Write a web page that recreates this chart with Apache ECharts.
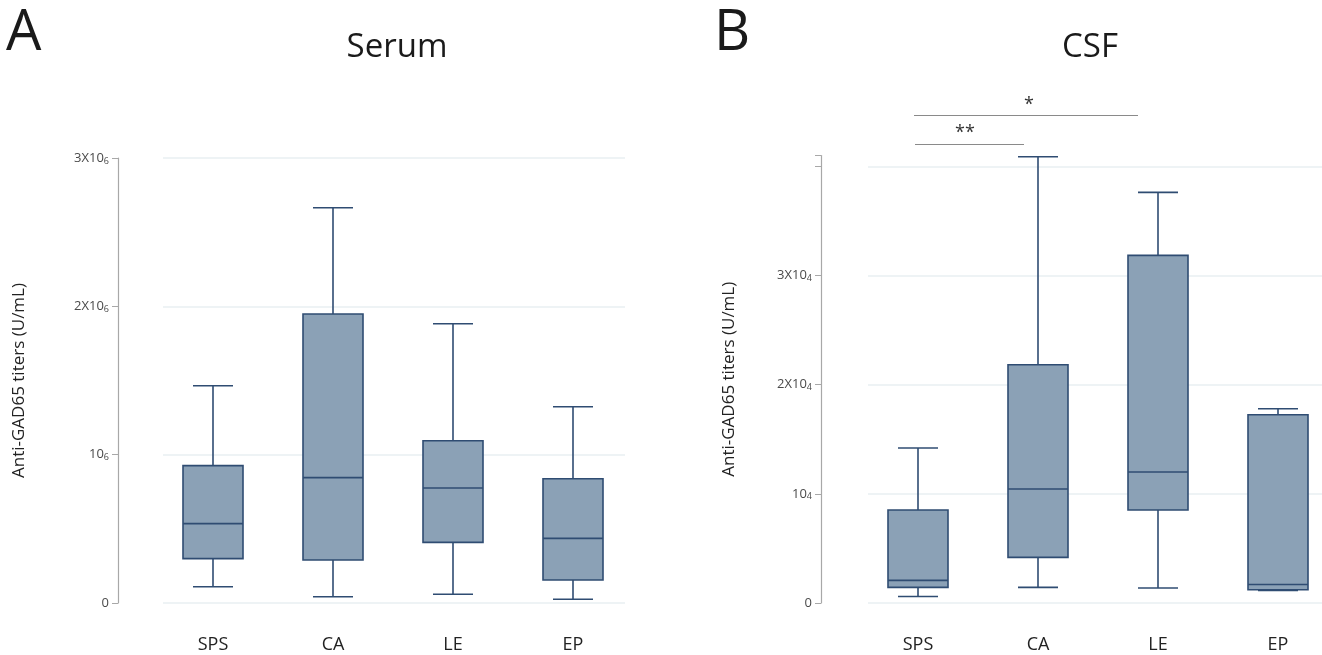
<!DOCTYPE html>
<html>
<head>
<meta charset="utf-8">
<script src="https://cdn.jsdelivr.net/npm/echarts@6/dist/echarts.min.js"></script>
<style>
html,body{margin:0;padding:0;background:#fff;}
#chart{width:1322px;height:655px;}
</style>
</head>
<body>
<div id="chart"></div>
<script>
// ---------- data ----------
const categories = ['SPS', 'CA', 'LE', 'EP'];

// Serum (U/mL)
const serumMin    = [110000,  42000,   59000,   25000];
const serumQ1     = [299000,  290000,  409000,  155000];
const serumMedian = [535000,  845000,  775000,  436000];
const serumQ3     = [926000,  1948000, 1094000, 838000];
const serumMax    = [1465000, 2665000, 1883000, 1323000];

// CSF (U/mL)
const csfMin    = [600,   1430,  1370,  1150];
const csfQ1     = [1430,  4180,  8520,  1220];
const csfMedian = [2070,  10440, 12000, 1700];
const csfQ3     = [8520,  21830, 31850, 17250];
const csfMax    = [14200, 40890, 37620, 17800];

// tick labels (base text + small exponent digit)
const serumTickValues = [0, 1000000, 2000000, 3000000];
const serumTickBase   = ['0', '10', '2X10', '3X10'];
const serumTickExp    = ['', '6', '6', '6'];
const csfTickValues = [0, 10000, 20000, 30000];
const csfTickBase   = ['0', '10', '2X10', '3X10'];
const csfTickExp    = ['', '4', '4', '4'];

const yName = 'Anti-GAD65 titers (U/mL)';

// ---------- styles ----------
const FILL = '#8ba1b6';
const STROKE = '#2f4c72';
const GRID_COLOR = '#e8eff2';
const AXIS_COLOR = '#a8a8a8';
const FONT = '"Open Sans", "Noto Sans", sans-serif';

function buildData(mn, q1, md, q3, mx) {
  return categories.map((c, i) => [i, mn[i], q1[i], md[i], q3[i], mx[i]]);
}

function renderBox(params, api) {
  const i = api.value(0);
  const p = [1, 2, 3, 4, 5].map(d => api.coord([i, api.value(d)]));
  const band = api.size([1, 0])[0];
  const bw = band * 0.5;
  const cw = bw * 2 / 3;
  const cx = Math.round(p[0][0]);
  const ls = { stroke: STROKE, lineWidth: 1.6, fill: null };
  return {
    type: 'group',
    children: [
      { type: 'line', shape: { x1: cx, y1: p[4][1], x2: cx, y2: p[3][1] }, style: ls },
      { type: 'line', shape: { x1: cx, y1: p[1][1], x2: cx, y2: p[0][1] }, style: ls },
      { type: 'line', shape: { x1: cx - cw / 2, y1: p[4][1], x2: cx + cw / 2, y2: p[4][1] }, style: ls },
      { type: 'line', shape: { x1: cx - cw / 2, y1: p[0][1], x2: cx + cw / 2, y2: p[0][1] }, style: ls },
      { type: 'rect', shape: { x: cx - bw / 2, y: p[3][1], width: bw, height: p[1][1] - p[3][1] },
        style: { fill: FILL, stroke: STROKE, lineWidth: 1.6 } },
      { type: 'line', shape: { x1: cx - bw / 2, y1: p[2][1], x2: cx + bw / 2, y2: p[2][1] }, style: ls }
    ]
  };
}

function tickFormatter(values, base, exp) {
  return function (v) {
    const k = values.indexOf(v);
    if (k < 0) return '';
    return exp[k] ? base[k] + '{e|' + exp[k] + '}' : base[k];
  };
}

const labelRich = {
  e: { fontSize: 9, color: '#4a4a4a', verticalAlign: 'bottom', lineHeight: 15, fontFamily: FONT }
};

function gridLineAxes(gridIndex, max, interval) {
  return {
    x: { gridIndex, type: 'value', show: false, min: 0, max: 1 },
    y: {
      gridIndex, type: 'value', min: 0, max, interval,
      axisLine: { show: false }, axisTick: { show: false }, axisLabel: { show: false },
      splitLine: { show: true, lineStyle: { color: GRID_COLOR, width: 1.5 } }
    }
  };
}

const g0 = gridLineAxes(0, 3000000, 1000000);
const g2 = gridLineAxes(2, 40000, 10000);

function dataXAxis(gridIndex) {
  return {
    gridIndex, type: 'category', data: categories,
    axisLine: { show: false }, axisTick: { show: false },
    axisLabel: { margin: 33, fontSize: 18, color: '#222', fontFamily: FONT },
    splitLine: { show: false }
  };
}

function dataYAxis(gridIndex, max, interval, offset, values, base, exp, nameGap) {
  return {
    gridIndex, type: 'value', min: 0, max, interval, offset,
    name: yName, nameLocation: 'middle', nameGap,
    nameTextStyle: { fontSize: 17, color: '#222', fontFamily: FONT },
    axisLine: { show: true, lineStyle: { color: AXIS_COLOR, width: 1.2 } },
    axisTick: { show: true, length: 6, lineStyle: { color: AXIS_COLOR } },
    axisLabel: {
      margin: 9, fontSize: 13, color: '#4a4a4a', fontFamily: FONT, lineHeight: 15,
      formatter: tickFormatter(values, base, exp), rich: labelRich
    },
    splitLine: { show: false }
  };
}

const option = {
  backgroundColor: '#ffffff',
  animation: false,
  grid: [
    { left: 163, right: 697, top: 158, bottom: 52, outerBoundsMode: 'none' },
    { left: 153, right: 689, top: 158, bottom: 52, outerBoundsMode: 'none' },
    { left: 868, right: 0, top: 167, bottom: 52, outerBoundsMode: 'none' },
    { left: 858, right: -16, top: 155.5, bottom: 52, outerBoundsMode: 'none' }
  ],
  xAxis: [g0.x, dataXAxis(1), g2.x, dataXAxis(3)],
  yAxis: [
    g0.y,
    dataYAxis(1, 3000000, 1000000, 35, serumTickValues, serumTickBase, serumTickExp, 90),
    g2.y,
    dataYAxis(3, 41000, 10000, 37, csfTickValues, csfTickBase, csfTickExp, 83)
  ],
  series: [
    {
      type: 'custom', name: 'Serum', xAxisIndex: 1, yAxisIndex: 1,
      renderItem: renderBox, clip: false,
      encode: { x: 0, y: [1, 2, 3, 4, 5] },
      data: buildData(serumMin, serumQ1, serumMedian, serumQ3, serumMax)
    },
    {
      type: 'custom', name: 'CSF', xAxisIndex: 3, yAxisIndex: 3,
      renderItem: renderBox, clip: false,
      encode: { x: 0, y: [1, 2, 3, 4, 5] },
      data: buildData(csfMin, csfQ1, csfMedian, csfQ3, csfMax)
    }
  ],
  graphic: [
    { type: 'text', left: 6, top: 6, style: { text: 'A', fontSize: 56, fill: '#1a1a1a', fontFamily: FONT } },
    { type: 'text', left: 714, top: 6, style: { text: 'B', fontSize: 56, fill: '#1a1a1a', fontFamily: FONT } },
    { type: 'text', x: 397, y: 48, style: { text: 'Serum', fontSize: 33, fill: '#1a1a1a', fontFamily: FONT, align: 'center', verticalAlign: 'middle' } },
    { type: 'text', x: 1090, y: 48, style: { text: 'CSF', fontSize: 33, fill: '#1a1a1a', fontFamily: FONT, align: 'center', verticalAlign: 'middle' } },
    { type: 'line', shape: { x1: 914, y1: 115.5, x2: 1138, y2: 115.5 }, style: { stroke: '#8a8a8a', lineWidth: 1 } },
    { type: 'line', shape: { x1: 915, y1: 144.5, x2: 1024, y2: 144.5 }, style: { stroke: '#8a8a8a', lineWidth: 1 } },
    { type: 'text', x: 1029, y: 105, style: { text: '*', fontSize: 18, fill: '#333', fontFamily: FONT, align: 'center', verticalAlign: 'middle' } },
    { type: 'text', x: 965, y: 133, style: { text: '**', fontSize: 18, fill: '#333', fontFamily: FONT, align: 'center', verticalAlign: 'middle' } }
  ]
};

const chart = echarts.init(document.getElementById('chart'), null, { renderer: 'canvas' });
chart.setOption(option);
</script>
</body>
</html>
